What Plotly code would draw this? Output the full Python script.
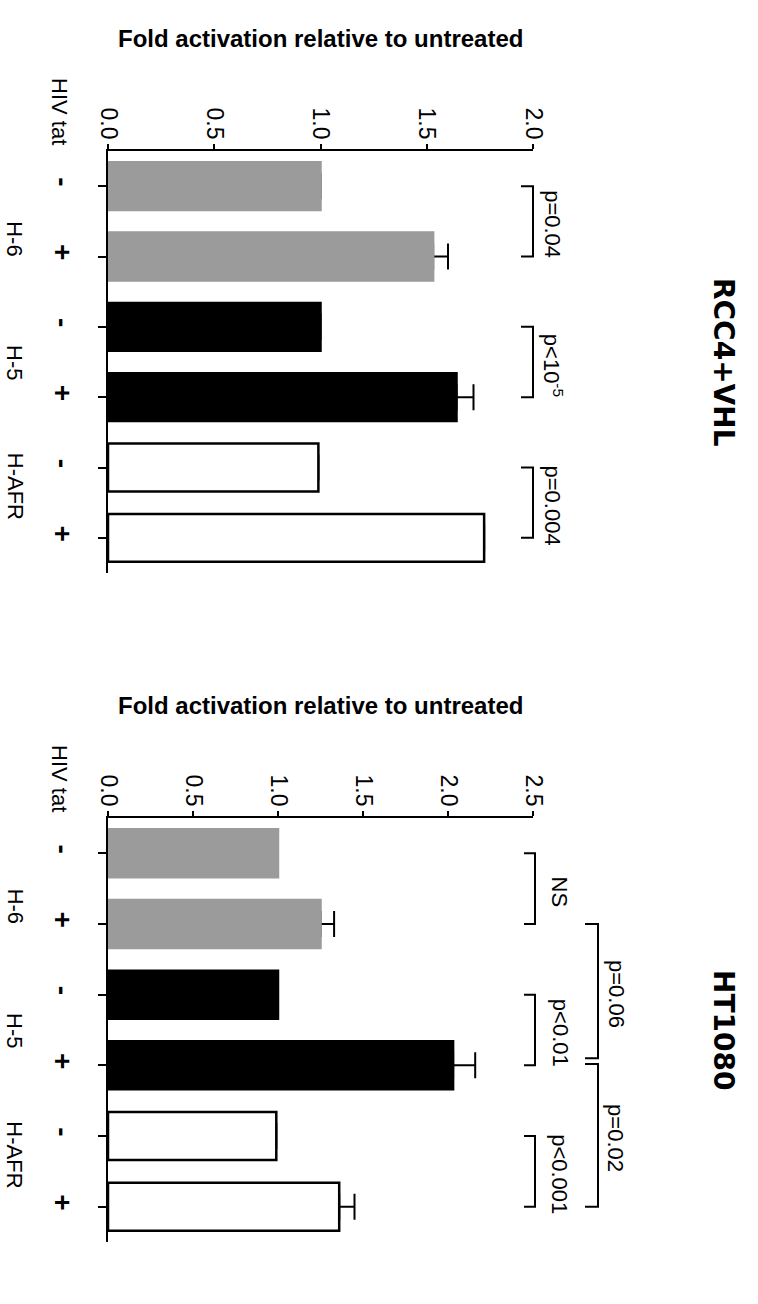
import plotly.graph_objects as go

# ---------------- data ----------------
categories = [0, 1, 2, 3, 4, 5]
hiv_tat = ["-", "+", "-", "+", "-", "+"]
groups = ["H-6", "H-5", "H-AFR"]
bar_fill = ["#9b9b9b", "#9b9b9b", "#000000", "#000000", "#ffffff", "#ffffff"]
bar_edge = ["#9b9b9b", "#9b9b9b", "#000000", "#000000", "#000000", "#000000"]

rcc_values = [1.00, 1.53, 1.00, 1.64, 0.99, 1.77]
rcc_errors = [None, 0.07, None, 0.08, None, None]
ht_values = [1.00, 1.25, 1.00, 2.03, 0.99, 1.36]
ht_errors = [None, 0.08, None, 0.13, None, 0.09]

rcc_ticks = [0.0, 0.5, 1.0, 1.5, 2.0]
ht_ticks = [0.0, 0.5, 1.0, 1.5, 2.0, 2.5]

# comparisons: (from bar, to bar, label, bracket level)
rcc_comparisons = [(0, 1, "p=0.04", 0), (2, 3, "p&lt;10<sup>-5</sup>", 0), (4, 5, "p=0.004", 0)]
ht_comparisons = [(0, 1, "NS", 0), (2, 3, "p&lt;0.01", 0), (4, 5, "p&lt;0.001", 0),
                  (1, 3, "p=0.06", 1), (3, 5, "p=0.02", 1)]

value_title = "Fold activation relative to untreated"
panel_titles = ["RCC4+VHL", "HT1080"]

# ---------------- layout constants (pixels) ----------------
W, H = 758, 1304
AX_X0, AX_X1, EXT_X1 = 108, 533, 650
panels = [
    dict(top=151, bot=573, values=rcc_values, errors=rcc_errors, ticks=rcc_ticks,
         comps=rcc_comparisons, title=panel_titles[0],
         bracket_px=[533, 598], arm_px=[12, 13], text_px=[20, 18]),
    dict(top=818, bot=1242, values=ht_values, errors=ht_errors, ticks=ht_ticks,
         comps=ht_comparisons, title=panel_titles[1],
         bracket_px=[535, 598], arm_px=[11, 13], text_px=[25, 18]),
]

FONT = "Liberation Sans, Arial, sans-serif"
fig = go.Figure()
layout = dict(width=W, height=H, autosize=False, margin=dict(l=0, r=0, t=0, b=0, pad=0),
              paper_bgcolor="white", plot_bgcolor="rgba(0,0,0,0)",
              showlegend=False, barmode="overlay", bargap=0.32)
annotations = []

for k, p in enumerate(panels):
    xa = "x" if k == 0 else "x2"
    ya = "y" if k == 0 else "y2"
    xb = "x3" if k == 0 else "x4"
    xmax = max(p["ticks"])
    px_per_unit = (AX_X1 - AX_X0) / xmax
    ext_max = (EXT_X1 - AX_X0) / px_per_unit
    ydom = [1 - p["bot"] / H, 1 - p["top"] / H]

    # error bars (drawn first, so the visible bars cover their base)
    fig.add_trace(go.Bar(
        x=p["values"], y=categories, orientation="h", width=0.68,
        marker=dict(color="rgba(0,0,0,0)", line=dict(width=0)),
        error_x=dict(type="data", symmetric=False, array=p["errors"],
                     arrayminus=[0] * len(p["values"]),
                     color="black", thickness=2, width=13),
        xaxis=xa, yaxis=ya, hoverinfo="skip"))
    # bars
    fig.add_trace(go.Bar(
        x=p["values"], y=categories, orientation="h", width=0.68,
        marker=dict(color=bar_fill, line=dict(color=bar_edge, width=2.5)),
        xaxis=xa, yaxis=ya))

    # brackets (in an extended, hidden axis with identical scale)
    bx, by = [], []
    for (i, j, lab, lvl) in p["comps"]:
        xv = (p["bracket_px"][lvl] - AX_X0) / px_per_unit
        arm = p["arm_px"][lvl] / px_per_unit
        y0, y1 = i, j
        if lvl == 1:
            # two brackets meet on the same bar: leave a small gap
            if any(c[0] == j and c[3] == 1 for c in p["comps"]):
                y1 = j - 0.1
            if any(c[1] == i and c[3] == 1 for c in p["comps"]):
                y0 = i - 0.02
        bx += [xv - arm, xv, xv, xv - arm, None]
        by += [y0, y0, y1, y1, None]
        annotations.append(dict(
            x=xv, y=(y0 + y1) / 2 + 0.04, xref=xb, yref=ya, text=lab, textangle=90,
            xshift=p["text_px"][lvl], showarrow=False, xanchor="center", yanchor="middle",
            font=dict(family=FONT, size=22, color="black")))
    fig.add_trace(go.Scatter(x=bx, y=by, mode="lines", line=dict(color="black", width=2),
                             xaxis=xb, yaxis=ya, hoverinfo="skip"))

    layout["xaxis" if k == 0 else "xaxis2"] = dict(
        domain=[AX_X0 / W, AX_X1 / W], range=[0, xmax], anchor=ya, side="top",
        tickvals=p["ticks"], ticktext=[f"{t:.1f}" for t in p["ticks"]],
        tickangle=90, ticks="outside", ticklen=5, tickwidth=2, tickcolor="black",
        ticklabelstandoff=-4,
        showline=True, linewidth=2.5, linecolor="black", showgrid=False, zeroline=False,
        automargin=False,
        tickfont=dict(family=FONT, size=23, color="black"), fixedrange=True)
    layout["xaxis3" if k == 0 else "xaxis4"] = dict(
        domain=[AX_X0 / W, EXT_X1 / W], range=[0, ext_max], anchor=ya, visible=False,
        automargin=False, fixedrange=True)
    layout["yaxis" if k == 0 else "yaxis2"] = dict(
        domain=ydom, range=[5.5, -0.5], anchor=xa, tickvals=categories, ticktext=hiv_tat,
        tickangle=90, ticks="outside", ticklen=8, tickwidth=2, tickcolor="black",
        ticklabelstandoff=11, automargin=False,
        showline=True, linewidth=2.5, linecolor="black", showgrid=False, zeroline=False,
        tickfont=dict(family=FONT, size=28, color="black", weight="bold"), fixedrange=True)

    # value-axis title (horizontal, above the axis)
    annotations.append(dict(
        x=0.5, y=1, xref=f"{xa} domain", yref=f"{ya} domain", yshift=113,
        text=f"<b>{value_title}</b>", showarrow=False, xanchor="center", yanchor="middle",
        font=dict(family=FONT, size=24, color="black")))
    # "HIV tat" row label
    annotations.append(dict(
        x=60 / W, y=1, xref="paper", yref=f"{ya} domain", yshift=40, text="HIV tat",
        textangle=90, showarrow=False, xanchor="center", yanchor="middle",
        font=dict(family=FONT, size=22, color="black")))
    # group labels
    for g, name in enumerate(groups):
        annotations.append(dict(
            x=15 / W, y=2 * g + 0.5 + (1 - g) * 0.24, xref="paper", yref=ya, text=name,
            textangle=90, showarrow=False, xanchor="center", yanchor="middle",
            font=dict(family=FONT, size=22, color="black")))
    # panel title
    annotations.append(dict(
        x=724 / W, y=0.5, xref="paper", yref=f"{ya} domain", text=f"<b>{p['title']}</b>",
        textangle=90, showarrow=False, xanchor="center", yanchor="middle",
        font=dict(family="DejaVu Sans, sans-serif", size=28, color="black")))

layout["annotations"] = annotations
fig.update_layout(**layout)

fig.write_html("out.html", config={"displayModeBar": False, "staticPlot": True},
               post_script="document.body.style.margin='0';document.body.style.overflow='hidden';")
